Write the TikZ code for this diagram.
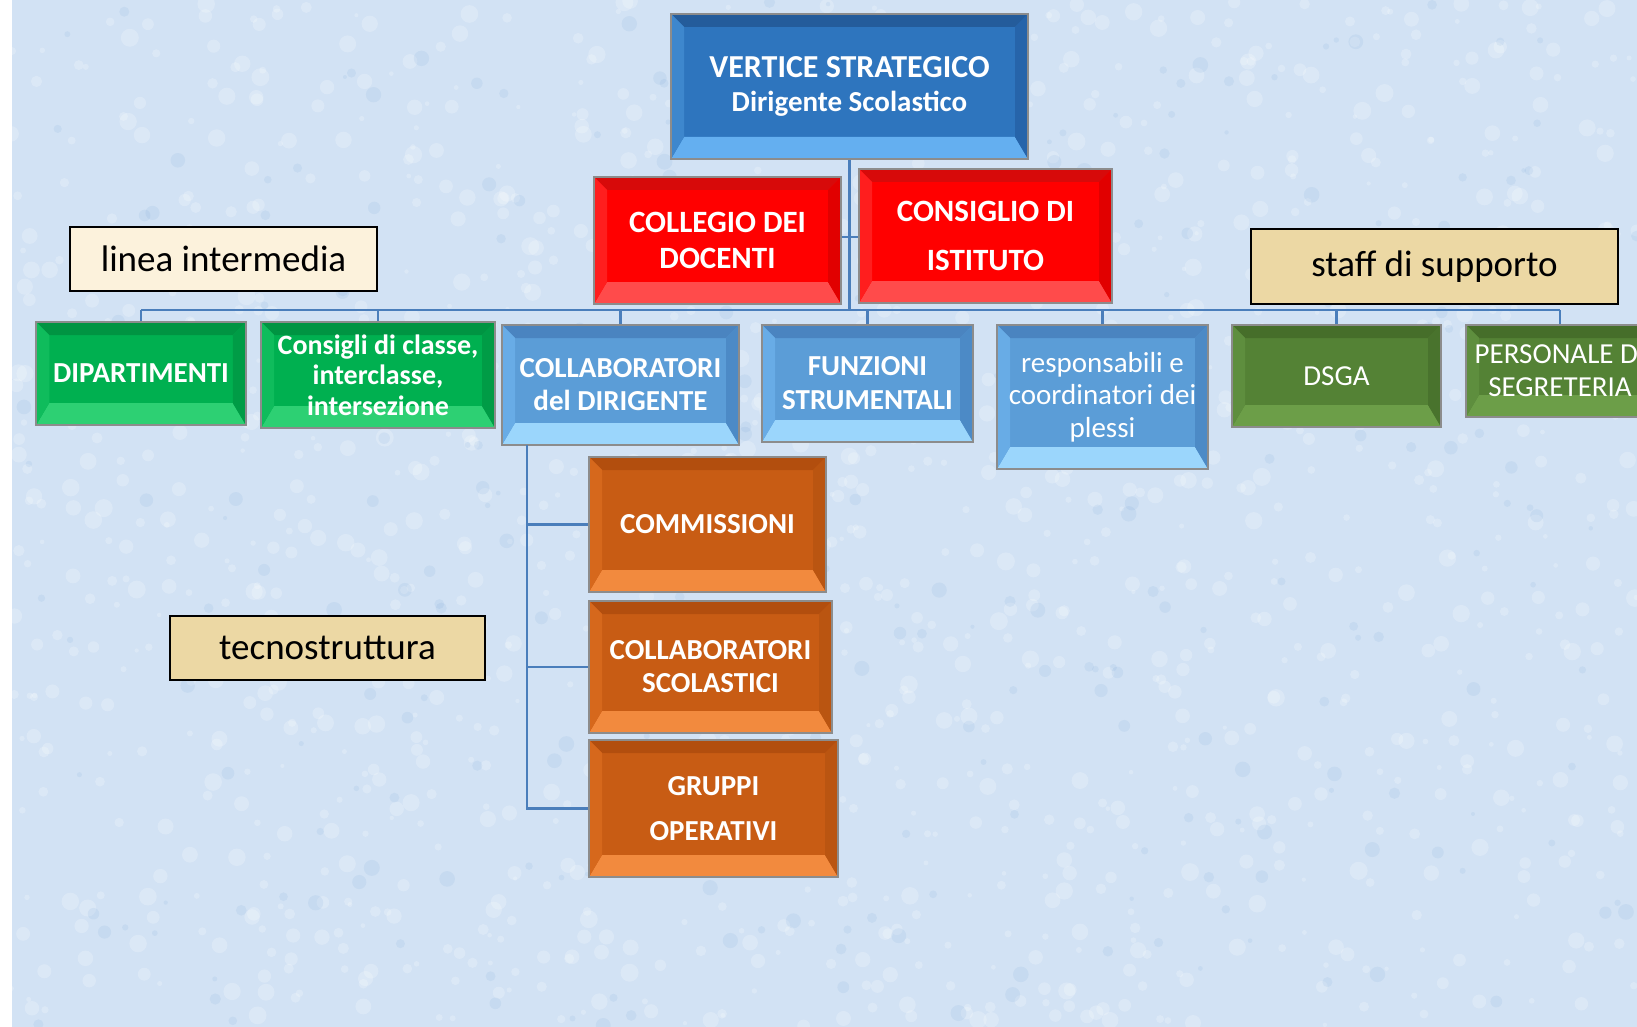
\documentclass[tikz,border=0pt]{standalone}
\usepackage{fontspec}
\setmainfont{Carlito}
\definecolor{bgc}{RGB}{210,226,244}
\definecolor{linec}{RGB}{74,126,187}
\definecolor{bF}{RGB}{46,117,190}\definecolor{bT}{RGB}{36,92,155}\definecolor{bB}{RGB}{100,175,240}\definecolor{bL}{RGB}{62,135,205}\definecolor{bR}{RGB}{38,100,170}
\definecolor{rF}{RGB}{255,0,0}\definecolor{rT}{RGB}{215,10,10}\definecolor{rB}{RGB}{255,75,75}\definecolor{rL}{RGB}{255,30,30}\definecolor{rR}{RGB}{225,0,0}
\definecolor{gF}{RGB}{0,176,80}\definecolor{gT}{RGB}{0,148,66}\definecolor{gB}{RGB}{45,208,115}\definecolor{gL}{RGB}{15,188,92}\definecolor{gR}{RGB}{0,156,70}
\definecolor{lF}{RGB}{91,157,215}\definecolor{lT}{RGB}{74,132,192}\definecolor{lB}{RGB}{155,214,252}\definecolor{lL}{RGB}{104,172,230}\definecolor{lR}{RGB}{76,138,198}
\definecolor{oF}{RGB}{84,130,53}\definecolor{oT}{RGB}{70,110,42}\definecolor{oB}{RGB}{108,158,72}\definecolor{oL}{RGB}{94,142,62}\definecolor{oR}{RGB}{73,115,45}
\definecolor{nF}{RGB}{200,92,20}\definecolor{nT}{RGB}{178,78,14}\definecolor{nB}{RGB}{242,138,62}\definecolor{nL}{RGB}{214,104,28}\definecolor{nR}{RGB}{186,85,17}
\definecolor{papL}{RGB}{252,242,220}
\definecolor{papD}{RGB}{236,216,164}
\def\bevs{6.5pt}
\def\bevb{11pt}
\tikzset{
  bevel/.style n args={5}{fill=#1, draw=black!45, line width=1pt, inner sep=0pt,
    text=white, align=center,
    path picture={
      \coordinate (qNW) at (path picture bounding box.north west);
      \coordinate (qNE) at (path picture bounding box.north east);
      \coordinate (qSW) at (path picture bounding box.south west);
      \coordinate (qSE) at (path picture bounding box.south east);
      \fill[#2] (qNW) -- (qNE) -- ([shift={(-\bevs,-\bevs)}]qNE) -- ([shift={(\bevs,-\bevs)}]qNW) -- cycle;
      \fill[#3] (qSW) -- (qSE) -- ([shift={(-\bevs,\bevb)}]qSE) -- ([shift={(\bevs,\bevb)}]qSW) -- cycle;
      \fill[#4] (qNW) -- ([shift={(\bevs,-\bevs)}]qNW) -- ([shift={(\bevs,\bevb)}]qSW) -- (qSW) -- cycle;
      \fill[#5] (qNE) -- ([shift={(-\bevs,-\bevs)}]qNE) -- ([shift={(-\bevs,\bevb)}]qSE) -- (qSE) -- cycle;
    }},
  bluebox/.style={bevel={bF}{bT}{bB}{bL}{bR}},
  redbox/.style={bevel={rF}{rT}{rB}{rL}{rR}},
  greenbox/.style={bevel={gF}{gT}{gB}{gL}{gR}},
  lbluebox/.style={bevel={lF}{lT}{lB}{lL}{lR}},
  olivebox/.style={bevel={oF}{oT}{oB}{oL}{oR}},
  orangebox/.style={bevel={nF}{nT}{nB}{nL}{nR}},
  labelbox/.style={draw=black, line width=1pt, inner sep=0pt, font=\fontsize{18.5}{20}\selectfont},
  conn/.style={draw=linec, line width=1.1pt},
}
\begin{document}
\begin{tikzpicture}[x=0.5pt,y=-0.5pt]
\useasboundingbox (0,0) rectangle (1637,1027);
\fill[white] (0,0) rectangle (1637,1027);
\fill[bgc] (11.5,0) rectangle (1637,1027);
\pgfmathsetseed{7}
\begin{scope}
\clip (11.5,0) rectangle (1637,1027);
\foreach \i in {1,...,1400}{
  \pgfmathsetmacro\px{11+1626*rnd}
  \pgfmathsetmacro\py{1027*rnd}
  \pgfmathsetmacro\pr{1+3.5*rnd}
  \fill[white,opacity=0.22] (\px,\py) circle (\pr pt);
}
\foreach \i in {1,...,300}{
  \pgfmathsetmacro\px{11+1626*rnd}
  \pgfmathsetmacro\py{1027*rnd}
  \pgfmathsetmacro\pr{1+3*rnd}
  \fill[bF,opacity=0.07] (\px,\py) circle (\pr pt);
}
\end{scope}

% top
\node[bluebox, minimum width=178.5pt, minimum height=72.5pt, font=\bfseries\fontsize{14.5}{17}\selectfont] (vert) at (849.5,86.5)
  {{\fontsize{16}{17}\selectfont VERTICE STRATEGICO}\\Dirigente Scolastico};
\node[redbox, minimum width=123.5pt, minimum height=63.5pt, font=\bfseries\fontsize{15.5}{18}\selectfont] (coll) at (717.5,240.5)
  {COLLEGIO DEI\\DOCENTI};
\node[redbox, minimum width=126.5pt, minimum height=67pt, font=\bfseries\fontsize{15.5}{24.5}\selectfont] (cons) at (985.5,236)
  {CONSIGLIO DI\\ISTITUTO};

% second row
\node[greenbox, minimum width=104.75pt, minimum height=51.5pt, font=\bfseries\fontsize{14.5}{16}\selectfont] (dip) at (141,373.5)
  {DIPARTIMENTI};
\node[greenbox, minimum width=117pt, minimum height=53pt, font=\bfseries\fontsize{14}{15.2}\selectfont] (cdc) at (378,375)
  {Consigli di classe,\\interclasse,\\intersezione};
\node[lbluebox, minimum width=118.5pt, minimum height=60pt, font=\bfseries\fontsize{14.5}{16.5}\selectfont] (cdir) at (620.5,385)
  {COLLABORATORI\\del DIRIGENTE};
\node[lbluebox, minimum width=105.5pt, minimum height=58.5pt, font=\bfseries\fontsize{14.5}{17}\selectfont] (funz) at (867.5,383.5)
  {FUNZIONI\\STRUMENTALI};
\node[lbluebox, minimum width=105.5pt, minimum height=72pt, font=\fontsize{14.5}{16.25}\selectfont] (resp) at (1102.5,397)
  {responsabili e\\coordinatori dei\\plessi};
\node[olivebox, minimum width=104.5pt, minimum height=51pt, font=\fontsize{14.5}{16}\selectfont] (dsga) at (1336.5,376)
  {DSGA};
\node[olivebox, minimum width=94pt, minimum height=46pt, font=\fontsize{14.5}{16.5}\selectfont] (pers) at (1560,371)
  {PERSONALE DI\\SEGRETERIA};

% orange column
\node[orangebox, minimum width=118.5pt, minimum height=67.5pt, font=\bfseries\fontsize{14.5}{16}\selectfont] (comm) at (707.5,524.5)
  {COMMISSIONI};
\node[orangebox, minimum width=121.5pt, minimum height=66pt, font=\bfseries\fontsize{14.5}{16.5}\selectfont] (csc) at (710.5,667)
  {COLLABORATORI\\SCOLASTICI};
\node[orangebox, minimum width=124.5pt, minimum height=68.5pt, font=\bfseries\fontsize{14.5}{22.5}\selectfont] (grp) at (713.5,808.5)
  {GRUPPI\\OPERATIVI};

% labels
\node[labelbox, fill=papL, minimum width=153.5pt, minimum height=32pt] (lin) at (223.5,259) {linea intermedia};
\node[labelbox, fill=papD, minimum width=183.5pt, minimum height=37.5pt] (staff) at (1434.5,266.5) {staff di supporto};
\node[labelbox, fill=papD, minimum width=157.5pt, minimum height=32pt] (tec) at (327.5,648) {tecnostruttura};

% connectors
\coordinate (busL) at (141,310);
\coordinate (busR) at (1560,310);
\coordinate (jn) at (849.5,237);
\draw[conn] (vert.south) -- (vert.south |- busL);
\draw[conn] (busL) -- (busR);
\draw[conn] (coll.east |- jn) -- (cons.west |- jn);
\foreach \n in {dip,cdc,cdir,funz,resp,dsga,pers}{
  \draw[conn] (\n.north) -- (\n.north |- busL);
}
\coordinate (lb) at (527,445);
\draw[conn] (lb) |- (grp.west);
\draw[conn] (lb |- comm.west) -- (comm.west);
\draw[conn] (lb |- csc.west) -- (csc.west);
\end{tikzpicture}
\end{document}
